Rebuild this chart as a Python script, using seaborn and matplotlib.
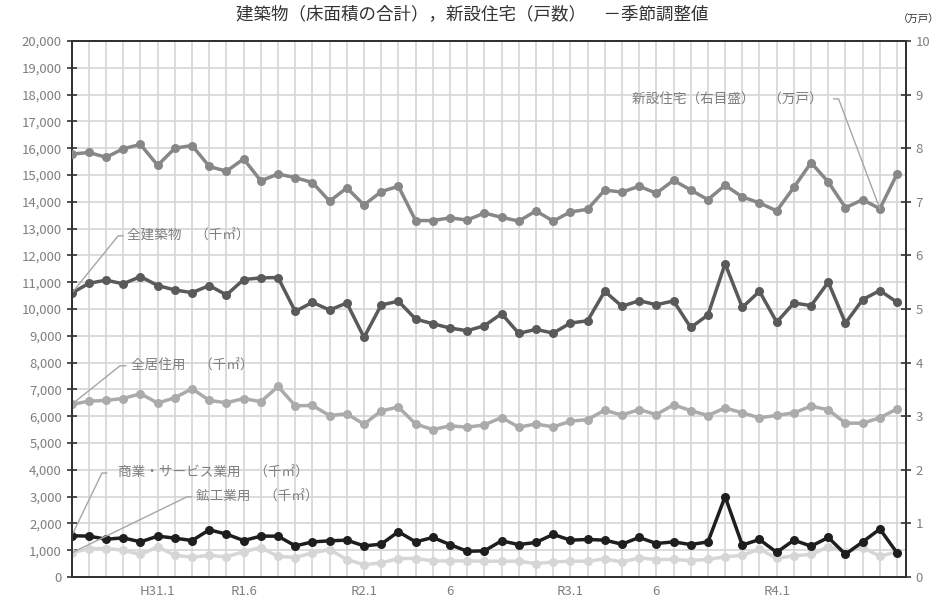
import numpy as np
import pandas as pd
import matplotlib
matplotlib.use("Agg")
import matplotlib.pyplot as plt
import seaborn as sns

# ---------------- data ----------------
x_labels = ["", "", "", "", "", "H31.1", "", "", "", "", "R1.6", "", "", "", "", "", "",
            "R2.1", "", "", "", "", "6", "", "", "", "", "", "", "R3.1", "", "", "", "", "6",
            "", "", "", "", "", "", "R4.1", "", "", "", "", "", "", ""]

# 新設住宅 (万戸, right axis)
housing = [7.89, 7.92, 7.83, 7.99, 8.07, 7.68, 8.00, 8.05, 7.66, 7.57, 7.80, 7.39, 7.52,
           7.45, 7.36, 7.01, 7.26, 6.94, 7.19, 7.29, 6.65, 6.65, 6.70, 6.66, 6.79, 6.71,
           6.64, 6.83, 6.64, 6.81, 6.86, 7.22, 7.18, 7.29, 7.16, 7.40, 7.22, 7.04, 7.31,
           7.09, 6.98, 6.83, 7.27, 7.73, 7.37, 6.89, 7.04, 6.87, 7.52]

# 全建築物 (千㎡)
all_build = [10590, 10960, 11075, 10940, 11210, 10875, 10710, 10610, 10875, 10525, 11100,
             11160, 11175, 9910, 10250, 9960, 10225, 8940, 10150, 10290, 9625, 9450, 9290,
             9190, 9375, 9825, 9090, 9240, 9100, 9475, 9560, 10660, 10100, 10310, 10160,
             10300, 9310, 9775, 11690, 10060, 10660, 9510, 10225, 10125, 11000, 9475, 10350,
             10690, 10250]

# 全居住用 (千㎡)
residential = [6440, 6560, 6590, 6660, 6840, 6490, 6690, 7025, 6590, 6500, 6660, 6540, 7110,
               6390, 6400, 6025, 6090, 5700, 6200, 6340, 5710, 5500, 5640, 5590, 5675, 5950,
               5590, 5710, 5600, 5810, 5875, 6225, 6040, 6250, 6060, 6425, 6210, 6025, 6310,
               6125, 5940, 6030, 6125, 6375, 6240, 5740, 5740, 5940, 6275]

# 商業・サービス業用 (千㎡)
commercial = [1540, 1525, 1410, 1460, 1310, 1525, 1450, 1360, 1760, 1600, 1360, 1525, 1525,
              1160, 1310, 1350, 1375, 1160, 1225, 1690, 1310, 1475, 1210, 960, 975, 1350,
              1210, 1290, 1590, 1375, 1400, 1375, 1225, 1475, 1250, 1310, 1210, 1310, 3000,
              1190, 1400, 920, 1375, 1150, 1475, 850, 1310, 1790, 900]

# 鉱工業用 (千㎡)
mining = [900, 1060, 1060, 1000, 840, 1125, 810, 740, 810, 750, 950, 1090, 775, 725, 900,
          1025, 650, 460, 525, 690, 690, 600, 600, 600, 590, 590, 590, 500, 560, 590, 590,
          675, 560, 710, 650, 660, 610, 660, 750, 810, 1040, 700, 790, 840, 1125, 940, 1100,
          775, 940]

left_ticks = list(range(0, 20001, 1000))
right_ticks = list(range(0, 11))

# ---------------- style ----------------
sns.set_theme(style="white")
plt.rcParams["font.family"] = ["Noto Sans CJK JP", "DejaVu Sans"]

idx = np.arange(len(x_labels))
df = pd.DataFrame({
    "idx": idx,
    "housing": housing,
    "all_build": all_build,
    "residential": residential,
    "commercial": commercial,
    "mining": mining,
})

W, H = 941, 600
fig = plt.figure(figsize=(W / 100, H / 100), dpi=100)
ax = fig.add_axes([71.7 / W, 1 - 577 / H, (906 - 71.7) / W, (577 - 41) / H])

grid_c = "#d6d6d6"
spine_c = "#333333"
txt_c = "#7f7f7f"
lw = 2.5
ms = 6.5

series = [
    ("mining", "#d6d6d6"),
    ("commercial", "#1e1e1e"),
    ("residential", "#ababab"),
    ("all_build", "#5a5a5a"),
]
for col, c in series:
    sns.lineplot(data=df, x="idx", y=col, ax=ax, color=c, linewidth=lw, marker="o",
                 markersize=ms, markeredgewidth=0, markeredgecolor=c, zorder=3)

ax.set_xlim(0, 48.52)
ax.set_ylim(0, 20000)
ax.set_xticks(idx)
ax.set_xticklabels(x_labels)
ax.set_yticks(left_ticks)
ax.set_yticklabels([f"{v:,}" for v in left_ticks])
ax.grid(True, color=grid_c, linewidth=1.2, zorder=0)
ax.set_axisbelow(True)
ax.set_xlabel("")
ax.set_ylabel("")
for s in ax.spines.values():
    s.set_color(spine_c)
    s.set_linewidth(1.4)
ax.tick_params(axis="both", direction="inout", length=7, width=1.2, color=spine_c,
               labelcolor=txt_c, labelsize=9.5)
ax.tick_params(axis="x", pad=2)

ax2 = ax.twinx()
sns.lineplot(data=df, x="idx", y="housing", ax=ax2, color="#878787", linewidth=lw,
             marker="o", markersize=ms, markeredgewidth=0, zorder=3)
ax2.set_ylim(0, 10)
ax2.set_xlim(0, 48.52)
ax2.set_yticks(right_ticks)
ax2.set_ylabel("")
ax2.grid(False)
for s in ax2.spines.values():
    s.set_color(spine_c)
    s.set_linewidth(1.4)
ax2.tick_params(axis="y", direction="inout", length=7, width=1.2, color=spine_c,
                labelcolor=txt_c, labelsize=9.5)

# ---------------- annotations ----------------
lead_c = "#a6a6a6"
fs_ann = 9.8

def leader(axis, pts, text, tx, ty, ha="left"):
    xs = [p[0] for p in pts]
    ys = [p[1] for p in pts]
    axis.plot(xs, ys, color=lead_c, linewidth=1.0, zorder=4)
    axis.text(tx, ty, text, color=txt_c, fontsize=fs_ann, ha=ha, va="center", zorder=5)

leader(ax, [(0, all_build[0]), (2.70, 12730), (2.99, 12730)], "全建築物　（千㎡）", 3.22, 12730)
leader(ax, [(0, residential[0]), (2.81, 7880), (3.16, 7880)], "全居住用　（千㎡）", 3.45, 7880)
leader(ax, [(0, commercial[0]), (1.76, 3880), (2.05, 3880)], "商業・サービス業用　（千㎡）", 2.70, 3880)
leader(ax, [(0, mining[0]), (6.70, 2990), (6.99, 2990)], "鉱工業用　（千㎡）", 7.23, 2990)
leader(ax2, [(47, housing[47]), (44.6, 8.92), (44.3, 8.92)], "新設住宅（右目盛）　（万戸）", 43.65, 8.9,
       ha="right")

fig.text(472 / W, 1 - 15 / H, "建築物（床面積の合計），新設住宅（戸数）　－季節調整値",
         ha="center", va="center", fontsize=12.6, color="#333333")
fig.text(919 / W, 1 - 20 / H, "（万戸）", ha="center", va="center", fontsize=7.5, color="#333333")

fig.savefig("out.png", dpi=100)
